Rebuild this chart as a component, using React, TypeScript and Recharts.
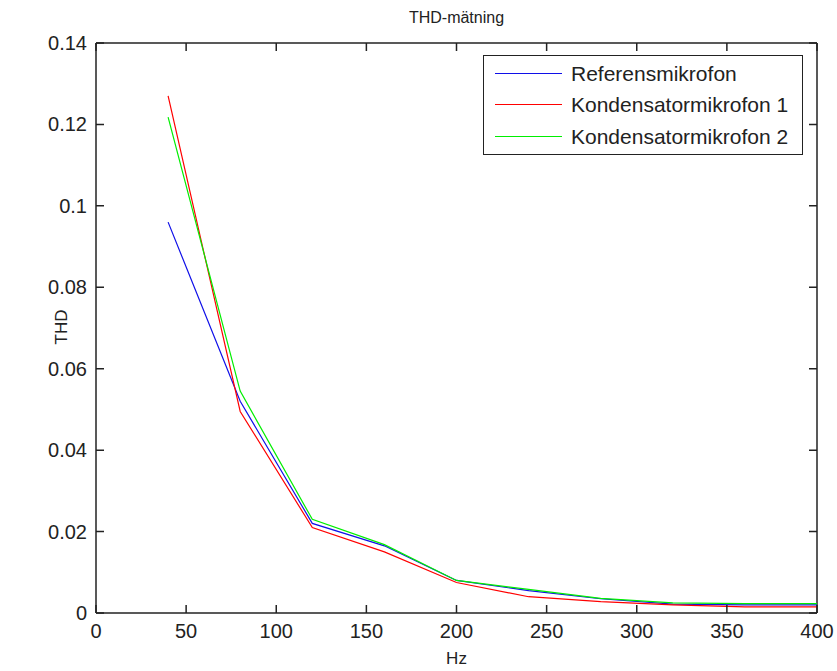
import React from "react";
import { LineChart, Line, XAxis, YAxis, ReferenceLine } from "recharts";

const hz = [40, 80, 120, 160, 200, 240, 280, 320, 360, 400];
const referens = [0.096, 0.052, 0.022, 0.0165, 0.008, 0.0055, 0.0035, 0.0022, 0.002, 0.002];
const kond1 = [0.127, 0.0495, 0.021, 0.015, 0.0075, 0.004, 0.0028, 0.002, 0.0015, 0.0015];
const kond2 = [0.1218, 0.0545, 0.023, 0.0168, 0.008, 0.0058, 0.0036, 0.0025, 0.0023, 0.0023];

const xTicks = [0, 50, 100, 150, 200, 250, 300, 350, 400];
const yTicks = [0, 0.02, 0.04, 0.06, 0.08, 0.1, 0.12, 0.14];

const series = [
  { key: "ref", name: "Referensmikrofon", color: "#1010e8" },
  { key: "k1", name: "Kondensatormikrofon 1", color: "#ff0000" },
  { key: "k2", name: "Kondensatormikrofon 2", color: "#00ee00" },
];

const data = hz.map((h, i) => ({ hz: h, ref: referens[i], k1: kond1[i], k2: kond2[i] }));

const W = 837;
const H = 671;
const MARGIN = { top: 43, right: 20, bottom: 28, left: 36 };
const X_AXIS_H = 30;
const Y_AXIS_W = 60;
const PLOT_W = W - MARGIN.left - Y_AXIS_W - MARGIN.right;
const PLOT_H = H - MARGIN.top - MARGIN.bottom - X_AXIS_H;

const FONT = "'Liberation Sans', Arial, sans-serif";
const AX = "#222";
const TXT = "#222";
const TICK = 8;
const fmtY = (v: number) => String(+v.toFixed(2));

// MATLAB style box: inward ticks on all four sides
const BottomTick = ({ x, y, payload }: any) => (
  <g>
    <path d={`M${x},${y}V${y - TICK}M${x},${y - PLOT_H}V${y - PLOT_H + TICK}`} stroke={AX} strokeWidth={1.5} fill="none" />
    <text x={x} y={y + 25} textAnchor="middle" fontSize={20} fontFamily={FONT} fill={TXT}>
      {payload.value}
    </text>
  </g>
);

const LeftTick = ({ x, y, payload }: any) => (
  <g>
    <path d={`M${x},${y}H${x + TICK}M${x + PLOT_W},${y}H${x + PLOT_W - TICK}`} stroke={AX} strokeWidth={1.5} fill="none" />
    <text x={x - 9} y={y + 7} textAnchor="end" fontSize={20} fontFamily={FONT} fill={TXT}>
      {fmtY(payload.value)}
    </text>
  </g>
);

const LegendBox = () => (
  <div
    style={{
      position: "absolute",
      left: 483,
      top: 55,
      width: 320,
      height: 100,
      border: "1.5px solid #222",
      background: "#fff",
      boxSizing: "border-box",
      padding: "2px 0 0 11px",
      fontFamily: FONT,
      fontSize: 21,
      color: TXT,
    }}
  >
    {series.map((s) => (
      <div key={s.key} style={{ display: "flex", alignItems: "center", height: 31.5 }}>
        <div style={{ width: 67, height: 1, borderTop: `1.5px solid ${s.color}`, marginRight: 9 }} />
        <span>{s.name}</span>
      </div>
    ))}
  </div>
);

export default function App() {
  return (
    <div style={{ position: "absolute", left: 0, top: 0, width: W, height: H, background: "#fff" }}>
      <LineChart width={W} height={H} data={data} margin={MARGIN}>
        <XAxis
          dataKey="hz"
          type="number"
          domain={[0, 400]}
          ticks={xTicks}
          interval={0}
          height={X_AXIS_H}
          tickSize={0}
          tickMargin={0}
          tick={<BottomTick />}
          tickLine={false}
          axisLine={{ stroke: AX, strokeWidth: 1.5 }}
        />
        <YAxis
          type="number"
          domain={[0, 0.14]}
          ticks={yTicks}
          interval={0}
          width={Y_AXIS_W}
          tickSize={0}
          tickMargin={0}
          tick={<LeftTick />}
          tickLine={false}
          axisLine={{ stroke: AX, strokeWidth: 1.5 }}
        />
        {/* right and top edges of the box */}
        <ReferenceLine x={400} stroke={AX} strokeWidth={1.5} ifOverflow="visible" />
        <ReferenceLine y={0.14} stroke={AX} strokeWidth={1.5} ifOverflow="visible" />
        {series.map((s) => (
          <Line
            key={s.key}
            dataKey={s.key}
            name={s.name}
            stroke={s.color}
            strokeWidth={1.2}
            dot={false}
            activeDot={false}
            isAnimationActive={false}
          />
        ))}
      </LineChart>
      <LegendBox />
      <div
        style={{ position: "absolute", top: 9, left: 96, width: PLOT_W, textAlign: "center", fontFamily: FONT, fontSize: 16, color: TXT }}
      >
        THD-mätning
      </div>
      <div
        style={{ position: "absolute", top: 649, left: 96, width: PLOT_W, textAlign: "center", fontFamily: FONT, fontSize: 17, color: TXT }}
      >
        Hz
      </div>
      <div
        style={{
          position: "absolute",
          left: 62,
          top: 327,
          transform: "translate(-50%, -50%) rotate(-90deg)",
          fontFamily: FONT,
          fontSize: 17,
          color: TXT,
          whiteSpace: "nowrap",
        }}
      >
        THD
      </div>
    </div>
  );
}
